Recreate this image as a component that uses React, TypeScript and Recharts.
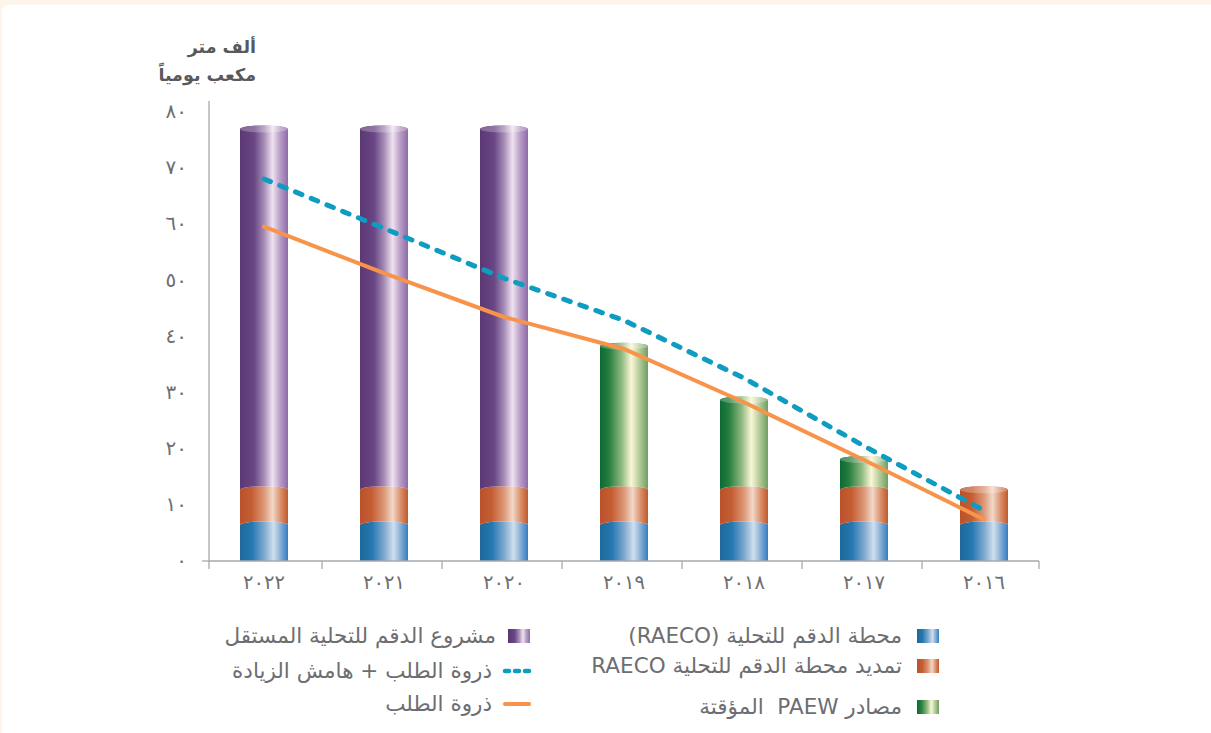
import React from 'react';
import { ComposedChart, Bar, Line, XAxis, YAxis } from 'recharts';

// ---- data ----
const years = ['٢٠٢٢', '٢٠٢١', '٢٠٢٠', '٢٠١٩', '٢٠١٨', '٢٠١٧', '٢٠١٦'];
const raeco = [6.4, 6.4, 6.4, 6.4, 6.4, 6.4, 6.4];
const raecoExt = [6.3, 6.3, 6.3, 6.3, 6.3, 6.3, 6.3];
const paew = [null, null, null, 25.6, 16.0, 5.4, null];
const duqmIwp = [64.3, 64.3, 64.3, null, null, null, null];
const peakDemand = [59.6, 51.3, 43.5, 37.8, 28.3, 18.0, 7.4];
const peakMargin = [68.1, 59.3, 50.4, 42.9, 32.6, 20.5, 9.0];
const yTicks = [0, 10, 20, 30, 40, 50, 60, 70, 80];
const yTickLabels = ['٠', '١٠', '٢٠', '٣٠', '٤٠', '٥٠', '٦٠', '٧٠', '٨٠'];
const axisTitle = ['ألف متر', 'مكعب يومياً'];
const legendLabels = {
  raeco: 'محطة الدقم للتحلية (RAECO)',
  raecoExt: 'تمديد محطة الدقم للتحلية RAECO',
  paew: 'مصادر PAEW  المؤقتة',
  duqmIwp: 'مشروع الدقم للتحلية المستقل',
  peakMargin: 'ذروة الطلب + هامش الزيادة',
  peakDemand: 'ذروة الطلب',
};

const data = years.map((year, i) => ({
  year,
  raeco: raeco[i],
  raecoExt: raecoExt[i],
  paew: paew[i],
  duqmIwp: duqmIwp[i],
  peakDemand: peakDemand[i],
  peakMargin: peakMargin[i],
}));

// ---- styles ----
const W = 1211;
const H = 733;
const PLOT_LEFT = 209;
const PLOT_RIGHT = 1039;
const PLOT_TOP = 101;
const PLOT_BOTTOM = 561;
const X_PAD = -5;
const BW = (PLOT_RIGHT - PLOT_LEFT - 2 * X_PAD) / years.length;
const FONT = '"DejaVu Sans", sans-serif';
const TEXT = '#6d6e71';
const AXIS = '#a7a9ac';
const DASH_COLOR = '#0e9dc0';
const LINE_COLOR = '#f7944a';

type Stop = [number, string];
const gradients: Record<string, Stop[]> = {
  gBlue: [[0, '#1f689c'], [0.25, '#2478b0'], [0.5, '#7ea7cf'], [0.7, '#d0dfec'], [0.86, '#7fa9d3'], [1, '#2f7fc0']],
  gOrange: [[0, '#b9522a'], [0.25, '#c65e34'], [0.5, '#dc9878'], [0.68, '#f2d7c8'], [0.86, '#d88a64'], [1, '#c0582d']],
  gGreen: [[0, '#0b6a34'], [0.2, '#2a8040'], [0.45, '#8fb880'], [0.65, '#fbf7d5'], [0.82, '#b5cc9a'], [1, '#6e9e63']],
  gPurple: [[0, '#5b3773'], [0.3, '#6a4785'], [0.5, '#a58bb6'], [0.68, '#f0e2f0'], [0.84, '#b79cc6'], [1, '#8e6ba7']],
};
const cssGrad = (id: string) =>
  `linear-gradient(to right, ${gradients[id].map(([o, c]) => `${c} ${o * 100}%`).join(', ')})`;

const stackOrder = ['raeco', 'raecoExt', 'paew', 'duqmIwp'];

const makeShape = (gradId: string, key: string) => (props: any) => {
  const { x, y, width, height, payload } = props;
  if (height == null || height <= 0.5) return null;
  const ry = 3.5;
  const idx = stackOrder.indexOf(key);
  const above = stackOrder.slice(idx + 1);
  const isTop = above.every((k) => payload[k] == null);
  const isBottom = idx === 0;
  const top = y;
  const bot = y + height;
  const rx = width / 2;
  let d = `M${x},${top} A${rx},${ry} 0 0 1 ${x + width},${top} L${x + width},${bot}`;
  if (isBottom) d += ` L${x},${bot} Z`;
  else d += ` A${rx},${ry} 0 0 0 ${x},${bot} Z`;
  return (
    <g>
      <path d={d} fill={`url(#${gradId})`} />
      {isTop && (
        <>
          <ellipse cx={x + rx} cy={top} rx={rx} ry={ry} fill={`url(#${gradId})`} />
          <ellipse cx={x + rx} cy={top} rx={rx} ry={ry} fill="#ffffff" opacity={0.25} />
        </>
      )}
    </g>
  );
};

const XTick = (props: any) => {
  const { x, y, payload, index } = props;
  const sep = index === 0 ? PLOT_LEFT : x - BW / 2 - 2;
  return (
    <g>
      <line x1={sep} y1={y} x2={sep} y2={y + 8} stroke={AXIS} strokeWidth={1.3} />
      {index === 0 && <line x1={sep - 7} y1={y} x2={sep} y2={y} stroke={AXIS} strokeWidth={1.3} />}
      {index === years.length - 1 && (
        <line x1={PLOT_RIGHT} y1={y} x2={PLOT_RIGHT} y2={y + 8} stroke={AXIS} strokeWidth={1.3} />
      )}
      <text x={x} y={y + 28} textAnchor="middle" fill={TEXT} fontSize={19.5} fontFamily={FONT}>
        {payload.value}
      </text>
    </g>
  );
};

const YTick = (props: any) => {
  const { x, y, payload } = props;
  const i = yTicks.indexOf(payload.value);
  return (
    <text x={x - 22} y={y + 6} textAnchor="end" fill={TEXT} fontSize={20} fontFamily={FONT}>
      {yTickLabels[i]}
    </text>
  );
};

const Swatch = ({ grad }: { grad: string }) => (
  <div style={{ width: 22, height: 14, background: cssGrad(grad), flex: 'none' }} />
);
const LineSwatch = ({ dashed }: { dashed: boolean }) => (
  <svg width={30} height={8} style={{ flex: 'none' }}>
    <line
      x1={3}
      y1={4}
      x2={27}
      y2={4}
      stroke={dashed ? DASH_COLOR : LINE_COLOR}
      strokeWidth={dashed ? 4.5 : 4}
      strokeLinecap="round"
      strokeDasharray={dashed ? '4 6' : undefined}
    />
  </svg>
);

const legendItems = [
  { key: 'raeco', right: 939, y: 636, sw: <Swatch grad="gBlue" />, gap: 15 },
  { key: 'raecoExt', right: 939, y: 666, sw: <Swatch grad="gOrange" />, gap: 15 },
  { key: 'paew', right: 939, y: 707, sw: <Swatch grad="gGreen" />, gap: 15 },
  { key: 'duqmIwp', right: 530, y: 636, sw: <Swatch grad="gPurple" />, gap: 12 },
  { key: 'peakMargin', right: 532, y: 671, sw: <LineSwatch dashed />, gap: 10 },
  { key: 'peakDemand', right: 532, y: 704, sw: <LineSwatch dashed={false} />, gap: 10 },
];

export default function App() {
  return (
    <div
      style={{
        position: 'absolute',
        left: 0,
        top: 0,
        width: W,
        height: H,
        background: '#fef5ea',
        overflow: 'hidden',
        fontFamily: FONT,
      }}
    >
      <div
        style={{
          position: 'absolute',
          left: 2,
          top: 5,
          right: 0,
          bottom: 0,
          background: '#ffffff',
          borderTopLeftRadius: 6,
        }}
      />
      <svg width={0} height={0} style={{ position: 'absolute' }}>
        <defs>
          {Object.entries(gradients).map(([id, stops]) => (
            <linearGradient key={id} id={id} x1="0" y1="0" x2="1" y2="0">
              {stops.map(([o, c]) => (
                <stop key={o} offset={o} stopColor={c} />
              ))}
            </linearGradient>
          ))}
        </defs>
      </svg>
      <div style={{ position: 'absolute', left: 0, top: 0 }}>
        <ComposedChart
          width={W}
          height={H}
          data={data}
          margin={{ top: PLOT_TOP, left: PLOT_LEFT - 60, right: W - PLOT_RIGHT, bottom: H - PLOT_BOTTOM - 30 }}
        >
          <XAxis
            dataKey="year"
            height={30}
            padding={{ left: X_PAD, right: X_PAD }}
            axisLine={{ stroke: AXIS, strokeWidth: 1.3 }}
            tickLine={false}
            tickSize={0}
            tickMargin={0}
            tick={<XTick />}
            interval={0}
          />
          <YAxis
            width={60}
            domain={[0, 82]}
            ticks={yTicks}
            axisLine={{ stroke: AXIS, strokeWidth: 1.3 }}
            tickLine={false}
            tickSize={0}
            tickMargin={0}
            tick={<YTick />}
            interval={0}
          />
          <Bar dataKey="raeco" stackId="a" barSize={48} shape={makeShape('gBlue', 'raeco')} isAnimationActive={false} />
          <Bar dataKey="raecoExt" stackId="a" barSize={48} shape={makeShape('gOrange', 'raecoExt')} isAnimationActive={false} />
          <Bar dataKey="paew" stackId="a" barSize={48} shape={makeShape('gGreen', 'paew')} isAnimationActive={false} />
          <Bar dataKey="duqmIwp" stackId="a" barSize={48} shape={makeShape('gPurple', 'duqmIwp')} isAnimationActive={false} />
          <Line
            dataKey="peakDemand"
            type="linear"
            stroke={LINE_COLOR}
            strokeWidth={4}
            strokeLinecap="round"
            dot={false}
            activeDot={false}
            isAnimationActive={false}
          />
          <Line
            dataKey="peakMargin"
            type="linear"
            stroke={DASH_COLOR}
            strokeWidth={5}
            strokeLinecap="round"
            strokeDasharray="7 10"
            dot={false}
            activeDot={false}
            isAnimationActive={false}
          />
        </ComposedChart>
      </div>
      {axisTitle.map((t, i) => (
        <div
          key={i}
          style={{
            position: 'absolute',
            right: W - 256,
            top: 36 + i * 28,
            direction: 'rtl',
            whiteSpace: 'nowrap',
            fontSize: 17.5,
            fontWeight: 'bold',
            color: '#58595b',
            lineHeight: '22px',
          }}
        >
          {t}
        </div>
      ))}
      {legendItems.map((it) => (
        <div
          key={it.key}
          style={{
            position: 'absolute',
            right: W - it.right,
            top: it.y - 13,
            height: 26,
            display: 'flex',
            flexDirection: 'row-reverse',
            alignItems: 'center',
            gap: it.gap,
            whiteSpace: 'pre',
          }}
        >
          {it.sw}
          <span style={{ direction: 'rtl', fontSize: 21.5, color: TEXT, lineHeight: '26px', whiteSpace: 'pre' }}>
            {legendLabels[it.key as keyof typeof legendLabels]}
          </span>
        </div>
      ))}
    </div>
  );
}
